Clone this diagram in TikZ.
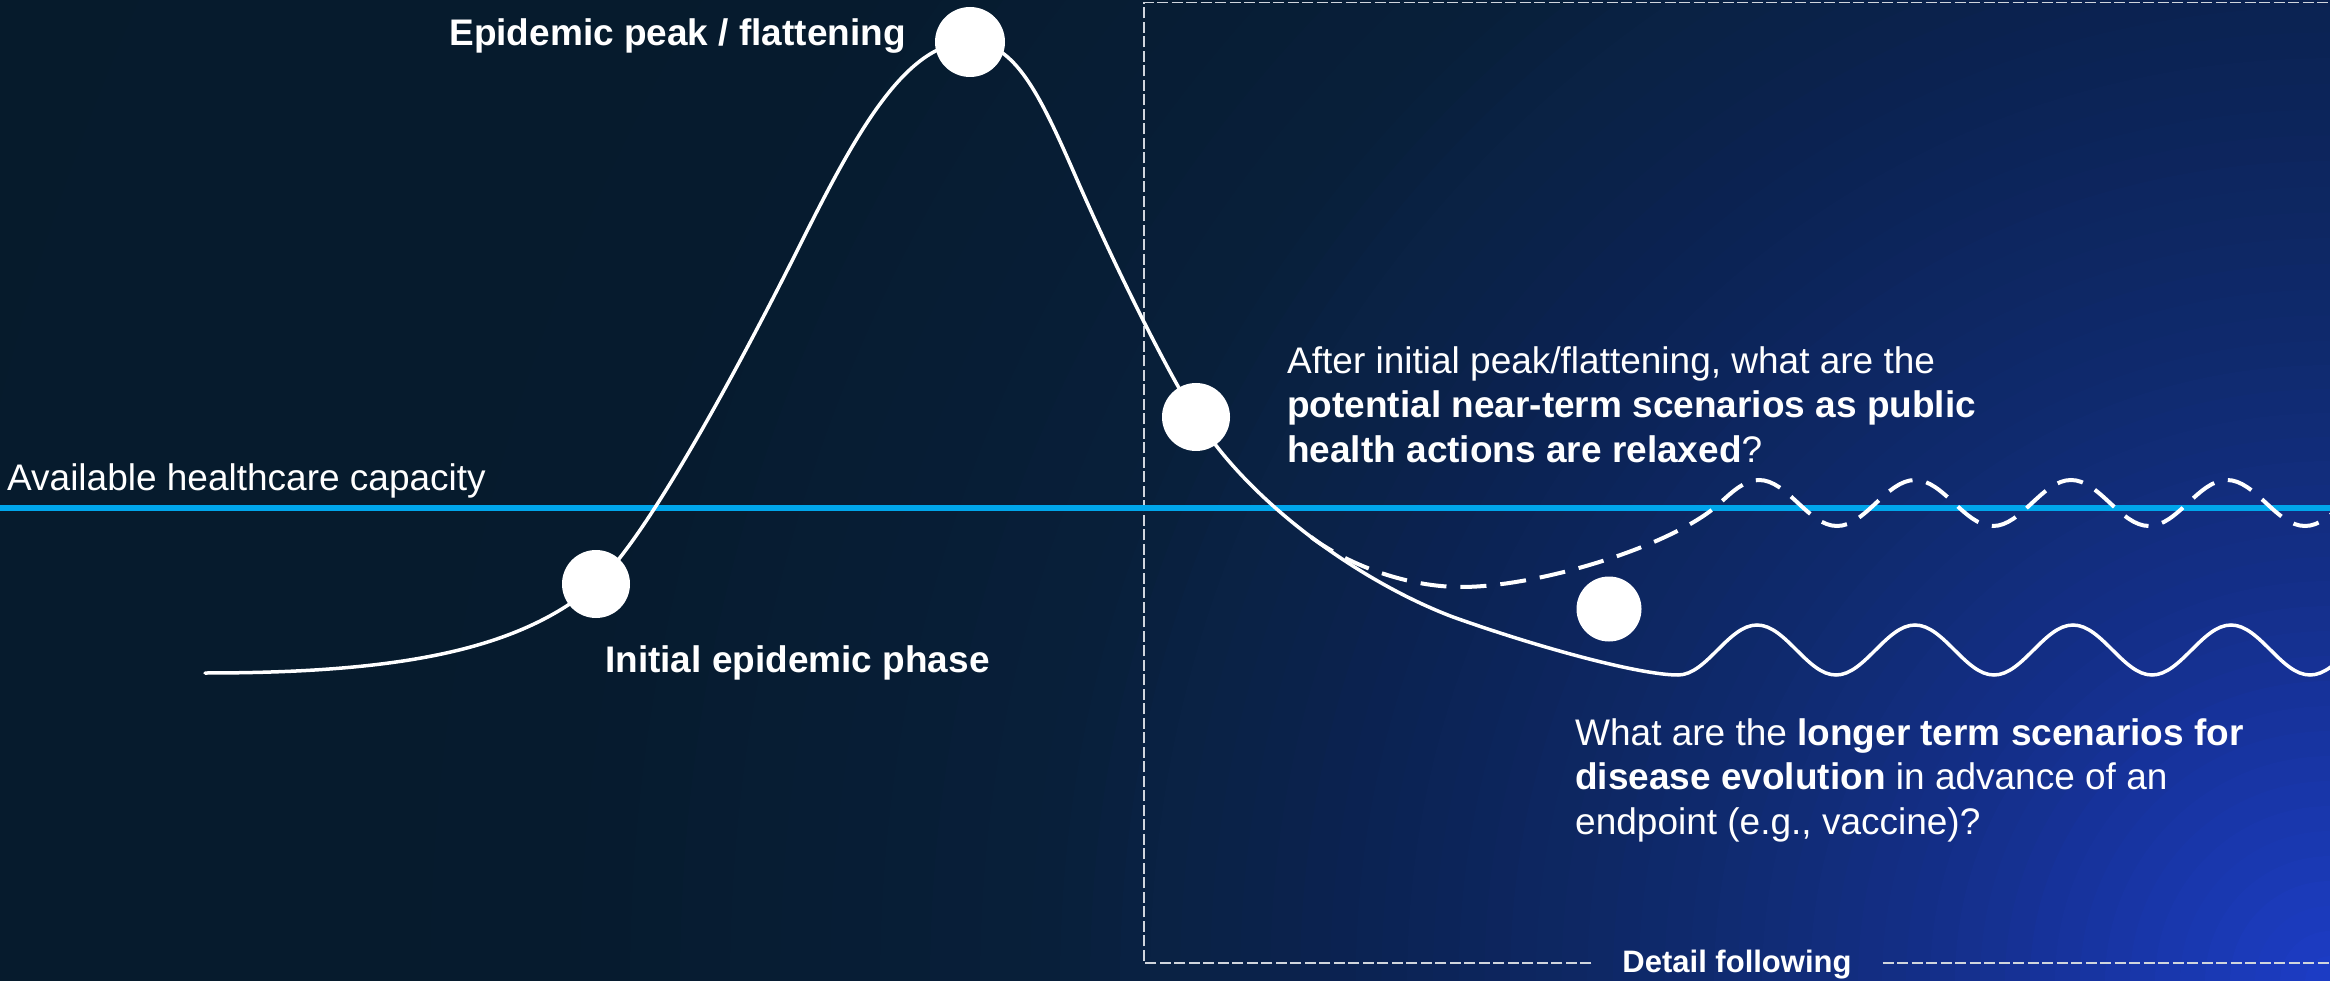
\documentclass[tikz,border=0pt]{standalone}
\usepackage{fontspec}
\setmainfont{Liberation Sans}
\definecolor{bgL}{HTML}{061B2C}
\definecolor{gA}{HTML}{1D3DC8}
\definecolor{gB}{HTML}{142F8A}
\definecolor{gC}{HTML}{0F2A6E}
\definecolor{gD}{HTML}{0B2251}
\definecolor{gE}{HTML}{0A2244}
\definecolor{gF}{HTML}{081F3A}
\definecolor{gG}{HTML}{061B2E}
\definecolor{capblue}{HTML}{00A6EB}
\definecolor{boxgray}{HTML}{D0D5DD}
\begin{document}
\begin{tikzpicture}[x=1pt,y=-1pt,
  curve/.style={draw=white, line width=3.5pt, line cap=round},
  dashcurve/.style={draw=white, line width=4pt, dash pattern=on 26pt off 14pt},
  dot/.style={circle, fill=white, inner sep=0pt, minimum size=68pt},
  lbl/.style={text=white, inner sep=0pt, font=\fontsize{37}{44.6}\selectfont},
  lblb/.style={text=white, inner sep=0pt, font=\bfseries\fontsize{37}{44.6}\selectfont},
  boxline/.style={draw=boxgray, line width=1.5pt, dash pattern=on 11pt off 3.5pt},
  capline/.style={draw=capblue, line width=5.5pt}]

\useasboundingbox (0,0) rectangle (2330,981);
\fill[bgL] (0,0) rectangle (2330,981);
\begin{scope}
  \clip (0,0) rectangle (2330,981);
  \foreach \ro/\ri/\co/\ci/\n in {2600/1800/bgL/gG/8, 1800/1300/gG/gF/10,
      1300/1180/gF/gE/4, 1180/1000/gE/gD/6, 1000/640/gD/gC/14,
      640/400/gC/gB/10, 400/0/gB/gA/16}{
    \foreach \i in {0,...,\n}{
      \pgfmathsetmacro\rr{\ro-(\ro-\ri)*\i/\n}
      \pgfmathtruncatemacro\pp{100*\i/\n}
      \fill[\ci!\pp!\co] (2330,981) circle (\rr);
    }
  }
\end{scope}

% dashed detail box
\node[text=white, font=\bfseries\fontsize{31}{37}\selectfont, anchor=base,
      inner xsep=31pt, inner ysep=0pt] (tdet) at (1737,972) {Detail following};
\coordinate (bxbl) at (1144,963);
\coordinate (bxtl) at (1144,2.5);
\coordinate (bxtr) at (2335,2.5);
\coordinate (bxbr) at (2335,963);
\draw[boxline] (tdet.west |- bxbl) -- (bxbl) -- (bxtl) -- (bxtr);
\draw[boxline] (tdet.east |- bxbr) -- (bxbr);

% capacity line
\coordinate (cl) at (0,508);
\coordinate (cr) at (2330,508);
\draw[capline] (cl) -- (cr);
\node[lbl, anchor=base west] (tcap) at (7,490) {Available healthcare capacity};

% curve key points
\coordinate (s0) at (205,673);
\coordinate (p1) at (596,584);
\coordinate (m1) at (800,245);
\coordinate (p2) at (970,42);
\coordinate (m2) at (1075,175);
\coordinate (p3) at (1196,417);
\coordinate (m3) at (1453,617);
\coordinate (t0) at (1678,675);
\coordinate (br) at (1311,537);
\coordinate (dm) at (1461,587);
\coordinate (di) at (1720,503);
\coordinate (p4) at (1609,609);

% main curve
\draw[curve] (s0) .. controls (400,673) and (520,650) .. (p1)
  .. controls (642,544) and (730,385) .. (m1)
  .. controls (855,135) and (905,42) .. (p2)
  .. controls (1015,42) and (1040,95) .. (m2)
  .. controls (1115,267) and (1166,369) .. (p3)
  .. controls (1251,505) and (1363,583) .. (m3)
  .. controls (1540,648) and (1640,675) .. (t0)
  cos (1717.5,650) sin (1757,625) cos (1796.5,650) sin (1836,675)
  cos (1875.5,650) sin (1915,625) cos (1954.5,650) sin (1994,675)
  cos (2033.5,650) sin (2073,625) cos (2112.5,650) sin (2152,675)
  cos (2191.5,650) sin (2231,625) cos (2270.5,650) sin (2310,675)
  cos (2349.5,650);

% dashed scenario curve
\draw[dashcurve] (br) .. controls (1351,567) and (1410,587) .. (dm)
  .. controls (1540,587) and (1675,545) .. (di)
  sin (1759,480) cos (1798,503) sin (1837,526) cos (1876,503)
  sin (1915,480) cos (1954,503) sin (1993,526) cos (2032,503)
  sin (2071,480) cos (2110,503) sin (2149,526) cos (2188,503)
  sin (2227,480) cos (2266,503) sin (2305,526) cos (2344,503);

% dots
\node[dot] (d1) at (p1) {};
\node[dot, minimum size=70pt] (d2) at (p2) {};
\node[dot] (d3) at (p3) {};
\node[dot, minimum size=65pt] (d4) at (p4) {};

% labels
\node[lblb, anchor=base east] (tpeak) at (906,46) {Epidemic peak / flattening};
\node[lblb, anchor=base west] (tinit) at (605,672) {Initial epidemic phase};
\node[lbl, align=left, anchor=north west] (tnear) at (1287,346)
  {After initial peak/flattening, what are the\\
   \textbf{potential near-term scenarios as public}\\
   \textbf{health actions are relaxed}?};
\node[lbl, align=left, anchor=north west] (tlong) at (1575,718)
  {What are the \textbf{longer term scenarios for}\\
   \textbf{disease evolution} in advance of an\\
   endpoint (e.g., vaccine)?};
\end{tikzpicture}
\end{document}
